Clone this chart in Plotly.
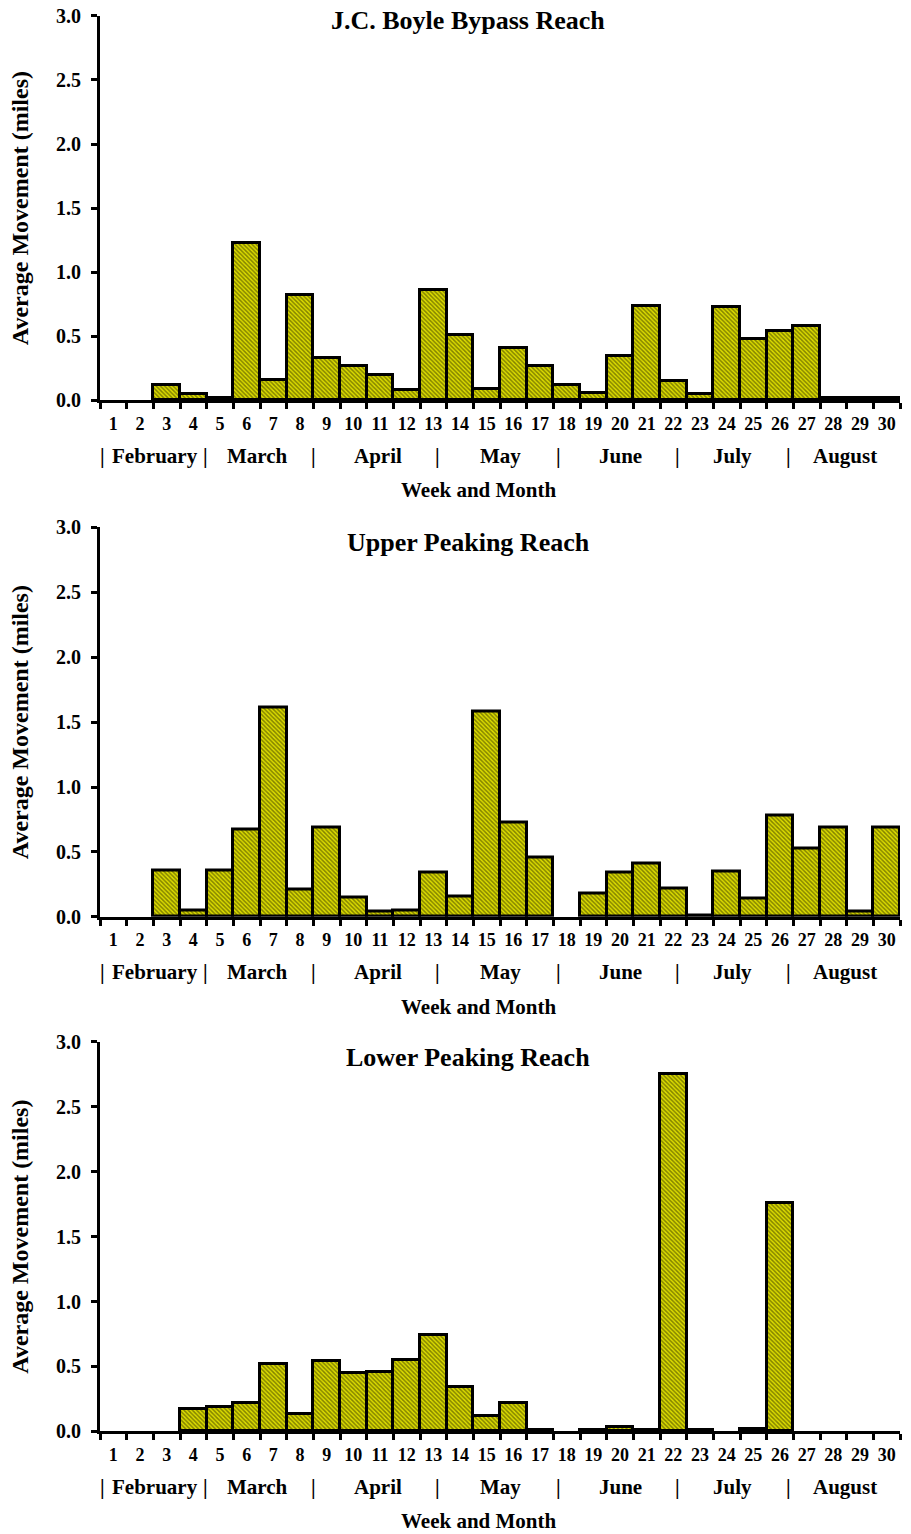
import plotly.graph_objects as go

W, H = 911, 1534

weeks = list(range(1, 31))
titles = ["J.C. Boyle Bypass Reach", "Upper Peaking Reach", "Lower Peaking Reach"]

bypass = [0, 0, 0.12, 0.05, 0.02, 1.23, 0.16, 0.82, 0.33, 0.27,
          0.20, 0.08, 0.86, 0.51, 0.09, 0.41, 0.27, 0.12, 0.06, 0.35,
          0.74, 0.15, 0.05, 0.73, 0.48, 0.54, 0.58, 0.02, 0.02, 0.02]
upper = [0, 0, 0.36, 0.05, 0.36, 0.67, 1.61, 0.21, 0.69, 0.15,
         0.04, 0.05, 0.34, 0.16, 1.58, 0.73, 0.46, 0, 0.18, 0.34,
         0.41, 0.22, 0.01, 0.35, 0.14, 0.78, 0.53, 0.69, 0.04, 0.69]
lower = [0, 0, 0, 0.17, 0.19, 0.22, 0.52, 0.13, 0.54, 0.45,
         0.46, 0.55, 0.74, 0.34, 0.12, 0.22, 0.01, 0, 0.01, 0.03,
         0.01, 2.75, 0.01, 0, 0.02, 1.76, 0, 0, 0, 0]
series = [bypass, upper, lower]

months = ["February", "March", "April", "May", "June", "July", "August"]
yticks = [0.0, 0.5, 1.0, 1.5, 2.0, 2.5, 3.0]

# layout (pixel positions of each panel: top of 3.0, bottom of 0.0)
panels = [(5, 395), (524, 919), (1046, 1441)]
title_centers = [10, 539, 1062]
x_left, x_right = 100, 900
month_x = [2.56, 6.42, 10.92, 15.5, 20.0, 24.2, 28.44]
sep_x = [0.61, 4.44, 8.49, 13.14, 17.71, 22.17, 26.3, 30.76]

FONT = "Liberation Serif"
fig = go.Figure()

def py(p):
    return 1 - p / H

for i, (vals, title, (top, bot)) in enumerate(zip(series, titles, panels)):
    k = "" if i == 0 else str(i + 1)
    fig.add_trace(go.Bar(
        x=weeks, y=vals, xaxis="x" + k, yaxis="y" + k,
        marker=dict(color="#d8d800",
                    line=dict(color="black", width=[3 if v > 0 else 0 for v in vals]),
                    pattern=dict(shape="\\", fgcolor="#2a2a00", bgcolor="#dcdc00",
                                 size=3, solidity=0.5)),
        showlegend=False, hoverinfo="x+y"))
    fig.layout["xaxis" + k] = dict(
        domain=[x_left / W, x_right / W], range=[0.5, 30.5], anchor="y" + k,
        tickmode="array", tickvals=weeks, ticktext=[str(w) for w in weeks],
        ticks="", ticklabelstandoff=5, showline=True, linecolor="black", linewidth=3,
        showgrid=False, zeroline=False, fixedrange=True,
        tickfont=dict(family=FONT, size=18, color="black", weight="bold"),
        minor=dict(tickmode="linear", tick0=0.5, dtick=1, ticks="outside",
                   ticklen=6, tickwidth=2.5, tickcolor="black", showgrid=False))
    fig.layout["yaxis" + k] = dict(
        domain=[py(bot), py(top)], range=[0, 3], anchor="x" + k,
        tickmode="array", tickvals=yticks, ticktext=[f"{v:.1f}" for v in yticks],
        ticks="outside", ticklen=6, tickwidth=2.5, tickcolor="black", ticklabelstandoff=6,
        showline=True, linecolor="black", linewidth=3,
        showgrid=False, zeroline=False, fixedrange=True,
        tickfont=dict(family=FONT, size=20, color="black", weight="bold"))
    # title
    fig.add_annotation(x=468 / W, y=py(title_centers[i]), xref="paper", yref="paper",
                       text=title, showarrow=False, xanchor="center", yanchor="middle",
                       font=dict(family=FONT, size=26, color="black", weight="bold"))
    # y title
    fig.add_annotation(x=20 / W, y=py((top + bot) / 2), xref="paper", yref="paper",
                       text="Average Movement (miles)", textangle=-90, showarrow=False,
                       xanchor="center", yanchor="middle",
                       font=dict(family=FONT, size=24, color="black", weight="bold"))
    # month labels
    for m, mx in zip(months, month_x):
        fig.add_annotation(x=mx, y=py(bot + 56), xref="x" + k, yref="paper",
                           text=m, showarrow=False, xanchor="center", yanchor="middle",
                           font=dict(family=FONT, size=21, color="black", weight="bold"))
    for sx in sep_x:
        fig.add_annotation(x=sx, y=py(bot + 56), xref="x" + k, yref="paper",
                           text="|", showarrow=False, xanchor="center", yanchor="middle",
                           font=dict(family=FONT, size=21, color="black", weight="bold"))
    fig.add_annotation(x=479 / W, y=py(bot + 91), xref="paper", yref="paper",
                       text="Week and Month", showarrow=False, xanchor="center", yanchor="middle",
                       font=dict(family=FONT, size=21, color="black", weight="bold"))

fig.update_layout(width=W, height=H, margin=dict(l=0, r=0, t=0, b=0),
                  paper_bgcolor="white", plot_bgcolor="white", bargap=0)
fig.write_html("out.html")
